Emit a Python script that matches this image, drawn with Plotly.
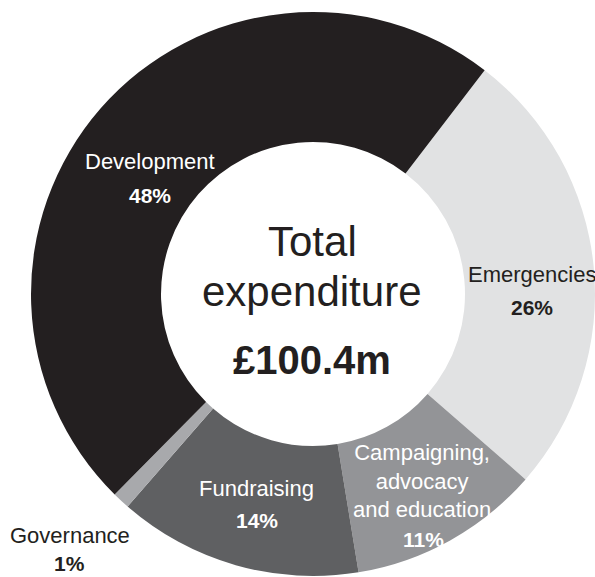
import plotly.graph_objects as go

# Expenditure breakdown (share of total, %)
categories = ["Emergencies", "Campaigning, advocacy and education", "Fundraising", "Governance", "Development"]
display_names = ["Emergencies", "Campaigning,<br>advocacy<br>and education", "Fundraising", "Governance", "Development"]
shares = [26, 11, 14, 1, 48]
total_label = "£100.4m"
centre_lines = ["Total", "expenditure"]

colors = ["#e1e2e3", "#939497", "#5f6062", "#a8a9ac", "#231f20"]
text_colors = ["#231f20", "#ffffff", "#ffffff", "#231f20", "#ffffff"]

W, H = 595, 577
DARK = "#231f20"
FONT = "Liberation Sans, Arial, sans-serif"

# Donut geometry (pixels): centre and outer radius
cx, cy, R = 313, 294, 282

fig = go.Figure(
    go.Pie(
        labels=categories,
        values=shares,
        sort=False,
        direction="clockwise",
        rotation=37.5,
        hole=0.539,
        marker=dict(colors=colors, line=dict(width=0)),
        textinfo="none",
        hoverinfo="label+percent",
        showlegend=False,
        domain=dict(
            x=[(cx - R) / W, min(1.0, (cx + R) / W)],
            y=[(H - cy - R) / H, (H - cy + R) / H],
        ),
    )
)


def px(x):
    return x / W


def py(y):
    return 1 - y / H


annotations = []

# Label anchor points (pixels): name position, percentage position
label_pos = {
    "Emergencies": ((532, 274.5), (532, 307.5)),
    "Campaigning, advocacy and education": ((422, 481), (423, 539.5)),
    "Fundraising": ((256, 488.5), (257, 520.5)),
    "Governance": ((69.5, 535), (69, 563.5)),
    "Development": ((150, 161.5), (150, 195.5)),
}

for cat, name, val, tc in zip(categories, display_names, shares, text_colors):
    (nx, ny), (vx, vy) = label_pos[cat]
    annotations.append(dict(
        x=px(nx), y=py(ny), xref="paper", yref="paper",
        text=name, showarrow=False, xanchor="center", yanchor="middle",
        font=dict(family=FONT, size=22, color=tc), align="center",
    ))
    annotations.append(dict(
        x=px(vx), y=py(vy), xref="paper", yref="paper",
        text=f"<b>{val}%</b>", showarrow=False, xanchor="center", yanchor="middle",
        font=dict(family=FONT, size=21, color=tc),
    ))

# Centre text
annotations.append(dict(
    x=px(312), y=py(241), xref="paper", yref="paper", text=centre_lines[0],
    showarrow=False, xanchor="center", yanchor="middle",
    font=dict(family=FONT, size=42, color=DARK),
))
annotations.append(dict(
    x=px(312), y=py(292), xref="paper", yref="paper", text=centre_lines[1],
    showarrow=False, xanchor="center", yanchor="middle",
    font=dict(family=FONT, size=42, color=DARK),
))
annotations.append(dict(
    x=px(312), y=py(360), xref="paper", yref="paper", text=f"<b>{total_label}</b>",
    showarrow=False, xanchor="center", yanchor="middle",
    font=dict(family=FONT, size=40, color=DARK),
))

fig.update_layout(
    width=W, height=H,
    margin=dict(l=0, r=0, t=0, b=0),
    paper_bgcolor="white", plot_bgcolor="white",
    annotations=annotations,
)

fig.write_html("out.html")
